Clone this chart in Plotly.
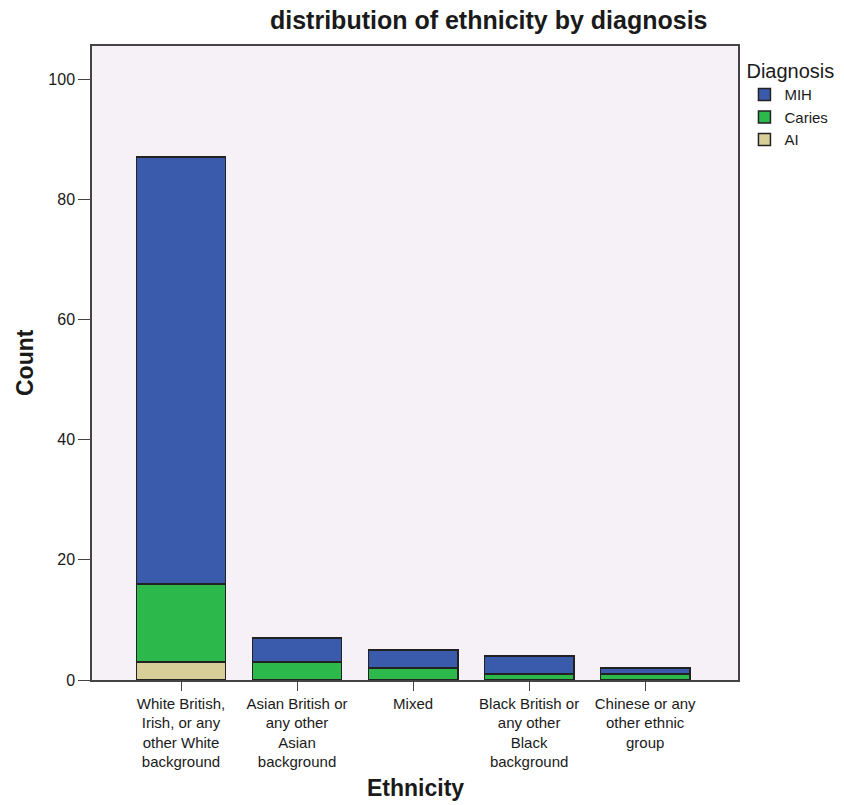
import plotly.graph_objects as go

categories = ["White British,<br>Irish, or any<br>other White<br>background",
              "Asian British or<br>any other<br>Asian<br>background",
              "Mixed",
              "Black British or<br>any other<br>Black<br>background",
              "Chinese or any<br>other ethnic<br>group"]
ai = [3, 0, 0, 0, 0]
caries = [13, 3, 2, 1, 1]
mih = [71, 4, 3, 3, 1]
y_ticks = [0, 20, 40, 60, 80, 100]

colors = {"MIH": "#3A5BAB", "Caries": "#2DB84C", "AI": "#D8CF98"}
x = list(range(len(categories)))

fig = go.Figure()
for name, vals in [("AI", ai), ("Caries", caries), ("MIH", mih)]:
    fig.add_trace(go.Bar(x=x, y=vals, name=name, width=0.77,
                         marker=dict(color=colors[name], line=dict(color="#222222", width=1.5))))

fig.update_layout(
    barmode="stack",
    width=844, height=805,
    margin=dict(l=92, r=106, t=46, b=125, autoexpand=False),
    paper_bgcolor="white",
    plot_bgcolor="#F6F1F6",
    font=dict(family="Liberation Sans, Arial", size=16, color="#1a1a1a"),
    showlegend=True,
    legend=dict(x=1.01, y=0.99, xanchor="left", yanchor="top",
                bgcolor="rgba(0,0,0,0)",
                traceorder="reversed",
                title=dict(text="Diagnosis", font=dict(size=20)),
                font=dict(size=15), itemwidth=30, tracegroupgap=0),
)
fig.update_xaxes(range=[-0.767, 4.80], tickmode="array", tickvals=x, ticktext=categories,
                 ticks="outside", ticklen=9, tickcolor="#444", showline=True, linecolor="#444",
                 linewidth=1.5, mirror=True, showgrid=False, zeroline=False,
                 tickfont=dict(size=15))
fig.update_yaxes(range=[0, 105.5], tickvals=y_ticks,
                 ticks="outside", ticklen=12, tickcolor="#444", showline=True, linecolor="#444",
                 linewidth=1.5, mirror=True, showgrid=False, zeroline=False,
                 tickfont=dict(size=16))

fig.add_annotation(text="<b>distribution of ethnicity by diagnosis</b>", xref="paper", yref="paper",
                   x=0.615, y=1.0, yshift=26, xanchor="center", yanchor="middle",
                   showarrow=False, font=dict(size=25))
fig.add_annotation(text="<b>Count</b>", xref="paper", yref="paper", x=0, xshift=-67, y=0.5,
                   textangle=-90, showarrow=False, font=dict(size=23), xanchor="center", yanchor="middle")
fig.add_annotation(text="<b>Ethnicity</b>", xref="paper", yref="paper", x=0.5, y=0, yshift=-108,
                   showarrow=False, font=dict(size=23), xanchor="center", yanchor="middle")

fig.write_html("out.html", config={"displayModeBar": False},
               post_script="document.body.style.margin='0px';")
